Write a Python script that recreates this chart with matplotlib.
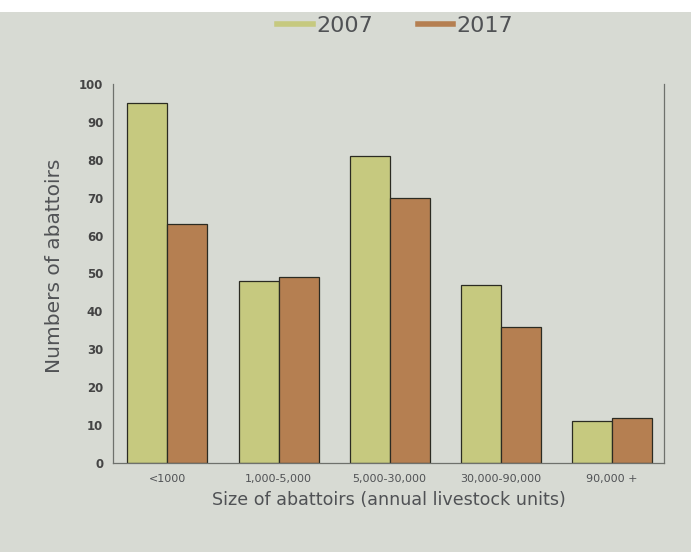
import matplotlib.pyplot as plt
import numpy as np
from matplotlib.patches import Rectangle
from matplotlib.lines import Line2D

categories = ['<1000', '1,000-5,000', '5,000-30,000', '30,000-90,000', '90,000 +']
vals_2007 = [95, 48, 81, 47, 11]
vals_2017 = [63, 49, 70, 36, 12]
yticks = [0, 10, 20, 30, 40, 50, 60, 70, 80, 90, 100]

bg = '#d7dad3'
green = '#c6c97f'
brown = '#b57f51'
txt = '#505255'

fig = plt.figure(figsize=(6.91, 5.52), dpi=100, facecolor=bg)
# white strip on top
fig.add_artist(Rectangle((0, 0.978), 1, 0.022, transform=fig.transFigure,
                         facecolor='white', edgecolor='none'))

ax = fig.add_axes([0.1635, 0.1612, 0.7975, 0.6868])
ax.set_facecolor(bg)

x = np.arange(len(categories))
w = 0.36
ax.bar(x - w / 2, vals_2007, w, color=green, edgecolor='#2b2b22', linewidth=0.9)
ax.bar(x + w / 2, vals_2017, w, color=brown, edgecolor='#2b2b22', linewidth=0.9)

ax.set_xlim(-0.49, 4.47)
ax.set_ylim(0, 100)
ax.set_xticks(x)
ax.set_xticklabels(categories, fontsize=8, color=txt)
ax.set_yticks(yticks)
ax.set_yticklabels([str(v) for v in yticks], fontsize=8.5, fontweight='bold', color='#444444')
ax.tick_params(length=0, pad=7)
ax.tick_params(axis='x', pad=8)

ax.spines['top'].set_visible(False)
for s in ['left', 'right', 'bottom']:
    ax.spines[s].set_color('#6e716c')
    ax.spines[s].set_linewidth(0.9)

ax.set_ylabel('Numbers of abattoirs', fontsize=14.5, color=txt, labelpad=8)
ax.yaxis.set_label_coords(-0.088, 0.52)
ax.set_xlabel('Size of abattoirs (annual livestock units)', fontsize=12.6, color=txt, labelpad=5)

handles = [Line2D([0], [0], color=green, lw=4), Line2D([0], [0], color=brown, lw=4)]
fig.legend(handles, ['2007', '2017'], loc='upper center', bbox_to_anchor=(0.572, 1.008),
           ncol=2, frameon=False, fontsize=16, labelcolor=txt, handlelength=1.6,
           handletextpad=0.15, columnspacing=2.0)

fig.savefig('out.png', dpi=100, facecolor=bg)
